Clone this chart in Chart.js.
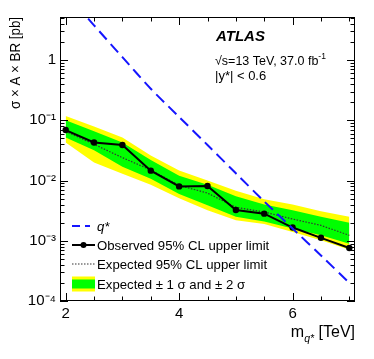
<!DOCTYPE html>
<html><head><meta charset="utf-8">
<script src="https://cdn.jsdelivr.net/npm/chart.js@4.4.0/dist/chart.umd.min.js"></script>
<style>html,body{margin:0;padding:0;background:#fff;}</style>
</head><body>
<canvas id="c" width="374" height="359" style="width:374px;height:359px;display:block"></canvas>
<script>
// ---- data ----
const masses      = [2, 2.5, 3, 3.5, 4, 4.5, 5, 5.5, 6, 6.5, 7];            // TeV
const observed    = [0.069, 0.0428, 0.039, 0.0146, 0.0080, 0.0081, 0.00325, 0.00282, 0.00166, 0.00112, 0.00076];
const expected    = [0.066, 0.040, 0.024, 0.015, 0.0083, 0.0062, 0.0036, 0.0030, 0.0023, 0.0018, 0.00123];
const sigma1Up    = [0.100, 0.066, 0.043, 0.022, 0.012, 0.0085, 0.0055, 0.0040, 0.0032, 0.0025, 0.0020];
const sigma1Down  = [0.052, 0.032, 0.017, 0.0107, 0.0060, 0.0039, 0.0025, 0.0021, 0.0016, 0.00123, 0.00089];
const sigma2Up    = [0.118, 0.079, 0.052, 0.026, 0.0147, 0.0100, 0.0068, 0.0049, 0.0040, 0.0031, 0.0025];
const sigma2Down  = [0.043, 0.020, 0.013, 0.0085, 0.0051, 0.0032, 0.0022, 0.0019, 0.0014, 0.00102, 0.00071];
const qstar       = [13, 3.78, 1.12, 0.335, 0.114, 0.039, 0.0132, 0.0045, 0.0016, 0.00057, 0.00020];
const xTickValues = [2, 4, 6];
const xTickLabels = ['2', '4', '6'];
const yTickValues = [1e-4, 1e-3, 1e-2, 1e-1, 1];
const yTickLabels = ['10\u207B\u2074', '10\u207B\u00B3', '10\u207B\u00B2', '10\u207B\u00B9', '1'];

const FONT = '"Liberation Sans", Arial, Helvetica, sans-serif';
const pts = arr => masses.map((m, i) => ({x: m, y: arr[i]}));

const decor = {
  id: 'decor',
  afterDatasetsDraw(chart) {
    const {ctx, chartArea: a, scales: {x, y}} = chart;
    ctx.save();
    ctx.strokeStyle = '#000'; ctx.lineWidth = 1;
    // frame
    ctx.strokeRect(Math.round(a.left) + 0.5, Math.round(a.top) + 0.5, Math.round(a.right - a.left) - 1, Math.round(a.bottom - a.top) - 1);
    // x ticks (inward, top and bottom)
    ctx.beginPath();
    for (let v = 2; v <= 7.001; v += 0.5) {
      const px = Math.round(x.getPixelForValue(v)) + 0.5;
      const len = xTickValues.includes(v) ? 8 : 4.5;
      ctx.moveTo(px, a.bottom); ctx.lineTo(px, a.bottom - len);
      ctx.moveTo(px, a.top); ctx.lineTo(px, a.top + len);
    }
    // y ticks (inward, left and right)
    for (let e = -4; e <= 0; e++) {
      for (let k = 1; k <= 9; k++) {
        const v = k * Math.pow(10, e);
        if (v > y.max) break;
        const py = Math.round(y.getPixelForValue(v)) + 0.5;
        const len = k === 1 ? 8 : 4.5;
        ctx.moveTo(a.left, py); ctx.lineTo(a.left + len, py);
        ctx.moveTo(a.right, py); ctx.lineTo(a.right - len, py);
      }
    }
    ctx.stroke();

    ctx.fillStyle = '#000';
    ctx.textBaseline = 'middle'; ctx.textAlign = 'left';
    // ATLAS label
    ctx.font = 'italic bold 15px ' + FONT;
    ctx.fillText('ATLAS', 216, 37);
    ctx.font = '12.5px ' + FONT;
    const t1 = '\u221As=13 TeV, 37.0 fb';
    ctx.fillText(t1, 215, 61.5);
    const w1 = ctx.measureText(t1).width;
    ctx.font = '8.5px ' + FONT;
    ctx.fillText('-1', 215 + w1, 56.5);
    ctx.font = '13px ' + FONT;
    ctx.fillText('|y*| < 0.6', 215, 76.5);

    // legend
    const lx0 = 72, lx1 = 95, tx = 97;
    const LF = '13.2px ' + FONT;
    // q*
    let ly = 226;
    ctx.save();
    ctx.strokeStyle = '#1515ff'; ctx.lineWidth = 2; ctx.setLineDash([8, 5]);
    ctx.beginPath(); ctx.moveTo(lx0, ly); ctx.lineTo(lx1 - 5, ly); ctx.stroke();
    ctx.restore();
    ctx.font = 'italic ' + LF;
    ctx.fillText('q*', tx, ly + 1);
    ctx.font = LF;
    // observed
    ly = 245;
    ctx.lineWidth = 2;
    ctx.beginPath(); ctx.moveTo(lx0, ly); ctx.lineTo(lx1, ly); ctx.stroke();
    ctx.beginPath(); ctx.arc((lx0 + lx1) / 2, ly, 3, 0, Math.PI * 2); ctx.fill();
    ctx.fillText('Observed 95% CL upper limit', tx, ly + 1);
    // expected
    ly = 264;
    ctx.save();
    ctx.lineWidth = 1.2; ctx.setLineDash([1.5, 1.5]); ctx.strokeStyle = '#333';
    ctx.beginPath(); ctx.moveTo(lx0, ly); ctx.lineTo(lx1, ly); ctx.stroke();
    ctx.restore();
    ctx.fillText('Expected 95% CL upper limit', tx, ly + 1);
    // bands
    ly = 284;
    ctx.fillStyle = '#ffff00'; ctx.fillRect(lx0, ly - 7.5, lx1 - lx0, 15);
    ctx.fillStyle = '#00ff00'; ctx.fillRect(lx0, ly - 4.5, lx1 - lx0, 9);
    ctx.fillStyle = '#000';
    ctx.fillText('Expected \u00B1 1 \u03C3 and \u00B1 2 \u03C3', tx, ly + 1);

    // y title (slightly condensed along its length, like the reference)
    ctx.save();
    ctx.translate(16, a.top);
    ctx.rotate(-Math.PI / 2);
    ctx.scale(0.86, 1);
    ctx.textAlign = 'right';
    ctx.font = '15.5px ' + FONT;
    ctx.fillText('\u03C3 \u00D7 A \u00D7 BR [pb]', 0, 0);
    ctx.restore();

    // x title: m_{q*} [TeV], right aligned at frame edge
    ctx.textAlign = 'left';
    const part3 = ' [TeV]';
    ctx.font = '16px ' + FONT;
    const w3 = ctx.measureText(part3).width;
    const wm = ctx.measureText('m').width;
    ctx.font = 'italic 10.5px ' + FONT;
    const wq = ctx.measureText('q*').width;
    const right = a.right;
    const xs = right - w3 - wq - wm;
    ctx.font = '16px ' + FONT;
    ctx.fillText('m', xs, 333);
    ctx.fillText(part3, right - w3, 333);
    ctx.font = 'italic 10.5px ' + FONT;
    ctx.fillText('q*', xs + wm, 339);
    ctx.restore();
  }
};

new Chart(document.getElementById('c'), {
  type: 'line',
  data: {
    datasets: [
      {label: 'q*', data: pts(qstar), borderColor: '#1515ff', borderWidth: 2, borderDash: [11, 6], pointRadius: 0, fill: false, tension: 0.3},
      {label: 'Observed 95% CL upper limit', data: pts(observed), borderColor: '#000', backgroundColor: '#000', borderWidth: 2, pointRadius: 3.2, pointBorderWidth: 0, fill: false},
      {label: 'Expected 95% CL upper limit', data: pts(expected), borderColor: '#333', borderWidth: 1.2, borderDash: [1.5, 1.5], pointRadius: 0, fill: false},
      {label: '+1 sigma', data: pts(sigma1Up), borderWidth: 0, borderColor: 'rgba(0,0,0,0)', backgroundColor: '#00ff00', pointRadius: 0, fill: 4},
      {label: '-1 sigma', data: pts(sigma1Down), borderWidth: 0, borderColor: 'rgba(0,0,0,0)', pointRadius: 0, fill: false},
      {label: '+2 sigma', data: pts(sigma2Up), borderWidth: 0, borderColor: 'rgba(0,0,0,0)', backgroundColor: '#ffff00', pointRadius: 0, fill: 6},
      {label: '-2 sigma', data: pts(sigma2Down), borderWidth: 0, borderColor: 'rgba(0,0,0,0)', pointRadius: 0, fill: false}
    ]
  },
  options: {
    responsive: false,
    animation: false,
    devicePixelRatio: 1,
    layout: {padding: {top: 17, right: 19, left: 0, bottom: 0}},
    plugins: {legend: {display: false}, tooltip: {enabled: false}},
    scales: {
      x: {
        type: 'linear', min: 1.9, max: 7.1,
        grid: {display: false, drawTicks: false}, border: {display: false},
        afterBuildTicks: s => { s.ticks = xTickValues.map(v => ({value: v})); },
        afterFit: s => { s.height = 58; },
        ticks: {padding: 4, color: '#000', font: {family: FONT, size: 15},
          callback: v => xTickLabels[xTickValues.indexOf(v)] ?? ''}
      },
      y: {
        type: 'logarithmic', min: 1e-4, max: 5.2,
        grid: {display: false, drawTicks: false}, border: {display: false},
        afterBuildTicks: s => { s.ticks = yTickValues.map(v => ({value: v})); },
        afterFit: s => { s.width = 60; },
        ticks: {padding: 4, color: '#000', font: {family: FONT, size: 15},
          callback: v => { const i = yTickValues.findIndex(t => Math.abs(t - v) / t < 1e-6); return i >= 0 ? yTickLabels[i] : ''; }}
      }
    }
  },
  plugins: [decor]
});
</script>
</body></html>
